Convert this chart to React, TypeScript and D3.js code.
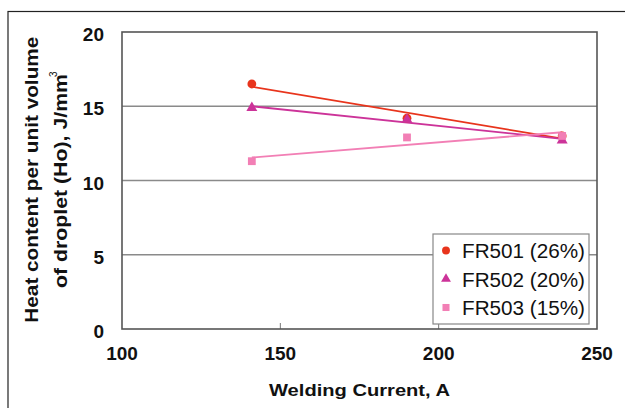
import React from "react";
import * as d3 from "d3";

const currents = [141, 190, 239];
const fr501 = [16.5, 14.2, 13.0];
const fr502 = [14.9, 14.1, 12.7];
const fr503 = [11.3, 12.9, 13.0];
const xTicks = [100, 150, 200, 250];
const yTicks = [0, 5, 10, 15, 20];
const seriesNames = ["FR501 (26%)", "FR502 (20%)", "FR503 (15%)"];
const seriesColors = ["#e8341c", "#cc3399", "#f27fb5"];

const W = 625, H = 408;
const m = { left: 122, right: 597, top: 32, bottom: 329 };

function fit(xs: number[], ys: number[]) {
  const mx = d3.mean(xs)!, my = d3.mean(ys)!;
  let num = 0, den = 0;
  xs.forEach((x, i) => { num += (x - mx) * (ys[i] - my); den += (x - mx) ** 2; });
  const b = num / den;
  return (x: number) => my + b * (x - mx);
}

export default function App() {
  const x = d3.scaleLinear().domain([100, 250]).range([m.left, m.right]);
  const y = d3.scaleLinear().domain([0, 20]).range([m.bottom, m.top]);
  const all = [fr501, fr502, fr503];
  const font = "Arial, 'Liberation Sans', sans-serif";

  const marker = (i: number, cx: number, cy: number, s = 1) => {
    const c = seriesColors[i];
    if (i === 0) return <circle cx={cx} cy={cy} r={4.4 * s} fill={c} />;
    if (i === 1) {
      const sym = d3.symbol().type(d3.symbolTriangle).size(52 * s * s)();
      return <path d={sym!} transform={`translate(${cx},${cy})`} fill={c} />;
    }
    return <rect x={cx - 3.9 * s} y={cy - 3.9 * s} width={7.8 * s} height={7.8 * s} fill={c} />;
  };

  return (
    <svg width={W} height={H} style={{ position: "absolute", left: 0, top: 0 }} fontFamily={font}>
      <rect x={0} y={0} width={W} height={H} fill="#fff" />
      <rect x={8} y={11.5} width={W + 10} height={H + 10} fill="none" stroke="#222" strokeWidth={1.2} />
      {yTicks.filter(t => t > 0 && t < 20).map(t => (
        <line key={t} x1={m.left} x2={m.right} y1={y(t)} y2={y(t)} stroke="#8a8a8a" strokeWidth={1.4} />
      ))}
      {xTicks.filter(t => t > 100 && t < 250).map(t => (
        <line key={t} x1={x(t)} x2={x(t)} y1={m.bottom} y2={m.bottom - 6} stroke="#777" strokeWidth={1} />
      ))}
      <rect x={m.left} y={m.top} width={m.right - m.left} height={m.bottom - m.top} fill="none" stroke="#555" strokeWidth={1.6} />
      {all.map((ys, i) => {
        const f = fit(currents, ys);
        const x0 = currents[0], x1 = currents[currents.length - 1];
        return <line key={"t" + i} x1={x(x0)} y1={y(f(x0))} x2={x(x1)} y2={y(f(x1))} stroke={seriesColors[i]} strokeWidth={1.8} />;
      })}
      {[0, 1, 2].map(i => (
        <g key={"m" + i}>{currents.map((c, j) => <g key={j}>{marker(i, x(c), y(all[i][j]))}</g>)}</g>
      ))}
      {yTicks.map(t => (
        <text key={t} x={104} y={y(t) + 9} textAnchor="end" fontSize={19} fontWeight="bold" fill="#111">{t}</text>
      ))}
      {xTicks.map(t => (
        <text key={t} x={x(t)} y={360} textAnchor="middle" fontSize={19} fontWeight="bold" fill="#111">{t}</text>
      ))}
      <text x={269} y={396} fontSize={17} fontWeight="bold" fill="#111" textLength={181} lengthAdjust="spacingAndGlyphs">Welding Current, A</text>
      <g transform="rotate(-90)">
        <text x={-322.7} y={37.7} fontSize={17.5} fontWeight="bold" fill="#111" textLength={286} lengthAdjust="spacingAndGlyphs">Heat content per unit volume</text>
        <text x={-288} y={66.5} fontSize={17.5} fontWeight="bold" fill="#111" textLength={214} lengthAdjust="spacingAndGlyphs">of droplet (Ho), J/mm</text>
        <text x={-77} y={57} fontSize={10} fill="#111">3</text>
      </g>
      <rect x={433} y={234} width={156} height={90} fill="#fff" stroke="#888" strokeWidth={1.2} />
      {seriesNames.map((n, i) => (
        <g key={n}>
          {marker(i, 446, 250.5 + i * 28.5, 0.9)}
          <text x={462} y={258 + i * 28.5} fontSize={20} fill="#111" textLength={123} lengthAdjust="spacingAndGlyphs">{n}</text>
        </g>
      ))}
    </svg>
  );
}
